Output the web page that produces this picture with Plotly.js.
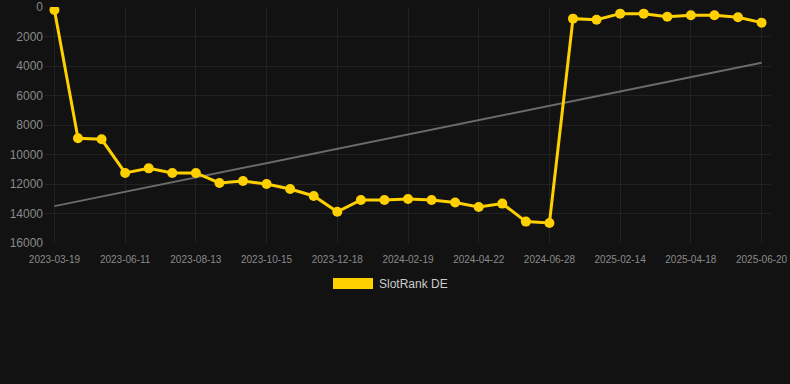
<!DOCTYPE html>
<html>
<head>
<meta charset="utf-8">
<script src="https://cdn.plot.ly/plotly-3.0.1.min.js"></script>
<style>
html,body{margin:0;padding:0;background:#121212;}
#chart{width:790px;height:384px;}
</style>
</head>
<body>
<div id="chart"></div>
<script>
const dates = [
  "2023-03-19","2023-04-16","2023-05-14","2023-06-11","2023-07-02","2023-07-23",
  "2023-08-13","2023-09-03","2023-09-24","2023-10-15","2023-11-05","2023-11-26",
  "2023-12-18","2024-01-08","2024-01-29","2024-02-19","2024-03-11","2024-04-01",
  "2024-04-22","2024-05-13","2024-06-05","2024-06-28","2025-01-03","2025-01-24",
  "2025-02-14","2025-03-07","2025-03-28","2025-04-18","2025-05-09","2025-05-30",
  "2025-06-20"
];
const rank = [
  200, 8900, 8970, 11250, 10940, 11250,
  11250, 11930, 11800, 12000, 12340, 12810,
  13880, 13080, 13080, 13020, 13080, 13260,
  13560, 13330, 14550, 14640, 790, 860,
  450, 450, 660, 565, 565, 700,
  1060
];
const trendDates = [dates[0], dates[dates.length-1]];
const trendValues = [13500, 3780];
const tickLabels = dates.filter((d,i)=> i % 3 === 0);
const yTicks = [0,2000,4000,6000,8000,10000,12000,14000,16000];
const seriesName = "SlotRank DE";

const traces = [
  {
    x: trendDates, y: trendValues, type: 'scatter', mode: 'lines',
    line: {color: '#6b6b6b', width: 2}, hoverinfo: 'skip', showlegend: false
  },
  {
    x: dates, y: rank, type: 'scatter', mode: 'lines+markers', name: seriesName,
    line: {color: '#FFD000', width: 3},
    marker: {color: '#FFD000', size: 10},
    showlegend: false
  }
];

const layout = {
  width: 790, height: 384,
  paper_bgcolor: '#121212', plot_bgcolor: '#121212',
  margin: {l: 45, r: 19, t: 7, b: 141},
  font: {family: 'Liberation Sans, Arial, sans-serif', color: '#8a8a8a'},
  xaxis: {
    type: 'category', categoryorder: 'array', categoryarray: dates,
    range: [-0.4, 30.4],
    tickmode: 'array', tickvals: tickLabels, ticktext: tickLabels,
    tickfont: {size: 10, color: '#8a8a8a'},
    ticklabelstandoff: 9,
    showgrid: true, gridcolor: '#222222', gridwidth: 1,
    zeroline: false, showline: false, ticks: '', tickangle: 0
  },
  yaxis: {
    range: [16000, 0],
    tickmode: 'array', tickvals: yTicks, ticktext: yTicks.map(String),
    tickfont: {size: 12, color: '#8a8a8a'},
    ticklabelstandoff: 1,
    showgrid: true, gridcolor: '#222222', gridwidth: 1,
    zeroline: false, showline: false, ticks: ''
  },
  showlegend: false,
  shapes: [
    {type: 'rect', xref: 'paper', yref: 'paper',
     x0: (333-45)/726, x1: (373-45)/726,
     y0: (243-289)/236, y1: (243-278)/236,
     fillcolor: '#FFD000', line: {width: 0}}
  ],
  annotations: [
    {xref: 'paper', yref: 'paper', x: (377-45)/726, y: (243-284)/236,
     xanchor: 'left', yanchor: 'middle', showarrow: false,
     text: seriesName, font: {size: 12, color: '#cccccc'}}
  ]
};

Plotly.newPlot('chart', traces, layout, {displayModeBar: false, staticPlot: true});
</script>
</body>
</html>
